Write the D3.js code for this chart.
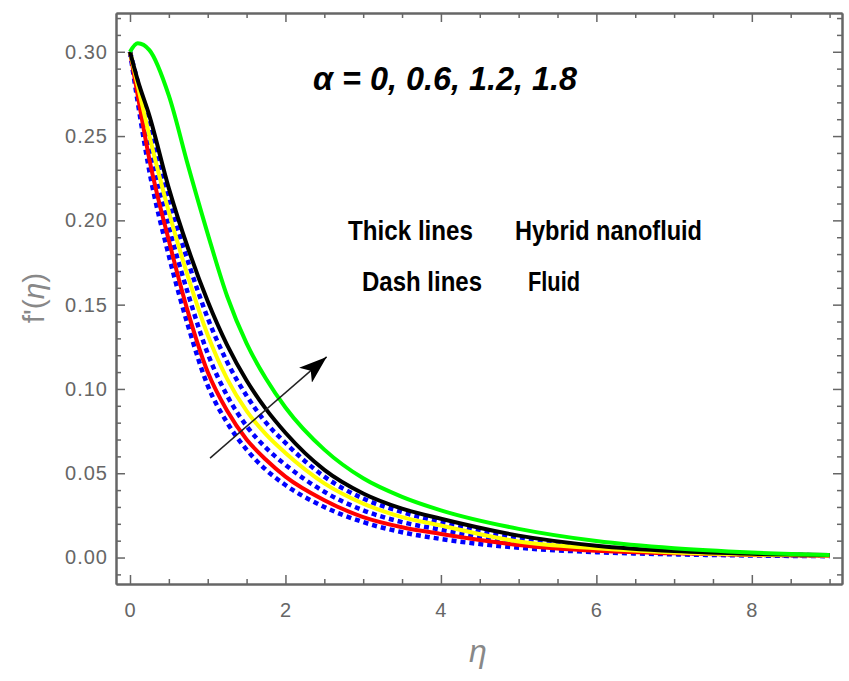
<!DOCTYPE html>
<html>
<head>
<meta charset="utf-8">
<script src="https://cdn.jsdelivr.net/npm/d3@7"></script>
<style>
  html, body { margin: 0; padding: 0; background: #fff; }
  svg { display: block; }
</style>
</head>
<body>
<svg id="chart" width="849" height="681"></svg>
<script>
// eta grid
const eta = [0, 0.1, 0.25, 0.5, 0.75, 1, 1.25, 1.5, 1.75, 2, 2.5, 3, 3.5, 4, 5, 6, 7, 8, 9];

// thick lines: hybrid nanofluid, alpha = 0, 0.6, 1.2, 1.8
const hybridRed    = [0.300, 0.274, 0.236, 0.188, 0.145, 0.110, 0.087, 0.070, 0.058, 0.048, 0.034, 0.024, 0.018, 0.014, 0.0075, 0.004, 0.0025, 0.0015, 0.001];
const hybridYellow = [0.300, 0.280, 0.250, 0.205, 0.166, 0.132, 0.106, 0.087, 0.073, 0.062, 0.044, 0.032, 0.024, 0.019, 0.0095, 0.0055, 0.003, 0.0018, 0.0012];
const hybridBlack  = [0.300, 0.283, 0.262, 0.219, 0.183, 0.152, 0.126, 0.105, 0.088, 0.074, 0.052, 0.038, 0.029, 0.023, 0.013, 0.007, 0.0038, 0.0022, 0.0015];
const hybridGreen  = [0.300, 0.305, 0.301, 0.274, 0.232, 0.192, 0.155, 0.127, 0.106, 0.089, 0.064, 0.047, 0.036, 0.028, 0.017, 0.0098, 0.0055, 0.003, 0.0015];

// dash lines: fluid
const fluid1 = [0.300, 0.270, 0.229, 0.179, 0.137, 0.102, 0.080, 0.064, 0.052, 0.043, 0.030, 0.021, 0.015, 0.011, 0.0058, 0.0032, 0.0019, 0.0012, 0.0008];
const fluid2 = [0.300, 0.277, 0.243, 0.196, 0.156, 0.121, 0.096, 0.078, 0.065, 0.055, 0.039, 0.028, 0.021, 0.0165, 0.0085, 0.0048, 0.0028, 0.0017, 0.001];
const fluid3 = [0.300, 0.282, 0.256, 0.212, 0.175, 0.142, 0.116, 0.096, 0.080, 0.068, 0.048, 0.035, 0.027, 0.021, 0.0112, 0.0062, 0.0034, 0.002, 0.0013];

const xMajor = [0, 2, 4, 6, 8];
const yMajor = [0, 0.05, 0.10, 0.15, 0.20, 0.25, 0.30];

const svg = d3.select("#chart");
const fLeft = 116, fRight = 842, fTop = 13, fBottom = 584;

const x = d3.scaleLinear().domain([-0.18, 9.16]).range([fLeft, fRight]);
const y = d3.scaleLinear().domain([-0.0157, 0.323]).range([fBottom, fTop]);

const xMinor = d3.range(0, 9.01, 0.5).filter(v => !xMajor.includes(v));
const yMinor = d3.range(-1, 33).map(v => v / 100).filter(v => Math.round(v * 100) % 5 !== 0);

svg.append("rect").attr("width", 849).attr("height", 681).attr("fill", "#fff");

// curves
const line = d3.line().x(d => x(d[0])).y(d => y(d[1])).curve(d3.curveMonotoneX);
const pts = arr => eta.map((e, i) => [e, arr[i]]);

[fluid1, fluid2, fluid3].forEach(s => {
  svg.append("path").attr("d", line(pts(s)))
    .attr("fill", "none").attr("stroke", "#0000ff")
    .attr("stroke-width", 4.5).attr("stroke-dasharray", "5,4");
});
[[hybridRed, "#ff0000"], [hybridYellow, "#ffff00"], [hybridBlack, "#000000"], [hybridGreen, "#00ff00"]].forEach(s => {
  svg.append("path").attr("d", line(pts(s[0])))
    .attr("fill", "none").attr("stroke", s[1])
    .attr("stroke-width", 4);
});

// frame with inward ticks on all sides
function styleAxis(g) {
  g.select(".domain").attr("stroke", "#666").attr("stroke-width", 2);
  g.selectAll(".tick line").attr("stroke", "#666").attr("stroke-width", 1.5);
  g.selectAll("text").attr("fill", "#666").style("font-family", "'Liberation Sans', Arial, sans-serif")
    .style("font-size", "20px").style("letter-spacing", "1px");
}
svg.append("g").attr("transform", `translate(0,${fBottom})`)
  .call(d3.axisBottom(x).tickValues(xMajor).tickSize(-9).tickSizeOuter(0).tickPadding(19).tickFormat(d3.format("d")))
  .call(styleAxis);
svg.append("g").attr("transform", `translate(0,${fBottom})`)
  .call(d3.axisBottom(x).tickValues(xMinor).tickSize(-5).tickSizeOuter(0).tickFormat(""))
  .call(styleAxis);
svg.append("g").attr("transform", `translate(0,${fTop})`)
  .call(d3.axisTop(x).tickValues(xMajor).tickSize(-9).tickSizeOuter(0).tickFormat(""))
  .call(styleAxis);
svg.append("g").attr("transform", `translate(0,${fTop})`)
  .call(d3.axisTop(x).tickValues(xMinor).tickSize(-5).tickSizeOuter(0).tickFormat(""))
  .call(styleAxis);
svg.append("g").attr("transform", `translate(${fLeft},0)`)
  .call(d3.axisLeft(y).tickValues(yMajor).tickSize(-9).tickSizeOuter(0).tickPadding(8).tickFormat(d3.format(".2f")))
  .call(styleAxis);
svg.append("g").attr("transform", `translate(${fLeft},0)`)
  .call(d3.axisLeft(y).tickValues(yMinor).tickSize(-5).tickSizeOuter(0).tickFormat(""))
  .call(styleAxis);
svg.append("g").attr("transform", `translate(${fRight},0)`)
  .call(d3.axisRight(y).tickValues(yMajor).tickSize(-9).tickSizeOuter(0).tickFormat(""))
  .call(styleAxis);
svg.append("g").attr("transform", `translate(${fRight},0)`)
  .call(d3.axisRight(y).tickValues(yMinor).tickSize(-5).tickSizeOuter(0).tickFormat(""))
  .call(styleAxis);

// axis titles
const yTitle = svg.append("text").attr("transform", "translate(44,298) rotate(-90)")
  .attr("text-anchor", "middle").attr("fill", "#888")
  .style("font-family", "'Liberation Sans', Arial, sans-serif").style("font-size", "30px");
yTitle.append("tspan").text("f'(");
yTitle.append("tspan").style("font-style", "italic").text("η");
yTitle.append("tspan").text(")");

svg.append("text").attr("x", 478).attr("y", 662).attr("text-anchor", "middle")
  .attr("fill", "#888").style("font-family", "'Liberation Sans', Arial, sans-serif")
  .style("font-size", "32px").style("font-style", "italic").text("η");

// annotations
svg.append("text").attr("x", 313).attr("y", 90).attr("fill", "#000")
  .attr("textLength", 264).attr("lengthAdjust", "spacingAndGlyphs")
  .style("font-family", "'Liberation Sans', Arial, sans-serif").style("font-size", "34px")
  .style("font-weight", "bold").style("font-style", "italic")
  .text("α = 0, 0.6, 1.2, 1.8");

const note = [["Thick lines", 348, 240, 125], ["Hybrid nanofluid", 515, 240, 187], ["Dash lines", 362, 291, 120], ["Fluid", 528, 291, 52]];
note.forEach(n => {
  svg.append("text").attr("x", n[1]).attr("y", n[2]).attr("fill", "#000")
    .attr("textLength", n[3]).attr("lengthAdjust", "spacingAndGlyphs")
    .style("font-family", "'Liberation Sans Narrow', 'Liberation Sans', Arial, sans-serif")
    .style("font-size", "27px").style("font-weight", "bold")
    .text(n[0]);
});

// arrow
svg.append("defs").append("marker").attr("id", "head")
  .attr("viewBox", "0 0 20 14").attr("refX", 20).attr("refY", 7)
  .attr("markerWidth", 28).attr("markerHeight", 20).attr("markerUnits", "userSpaceOnUse")
  .attr("orient", "auto")
  .append("path").attr("d", "M0,0 L20,7 L0,14 L5,7 Z").attr("fill", "#000");
svg.append("line")
  .attr("x1", x(1.03)).attr("y1", y(0.059))
  .attr("x2", x(2.53)).attr("y2", y(0.119))
  .attr("stroke", "#222").attr("stroke-width", 1.5)
  .attr("marker-end", "url(#head)");
</script>
</body>
</html>
